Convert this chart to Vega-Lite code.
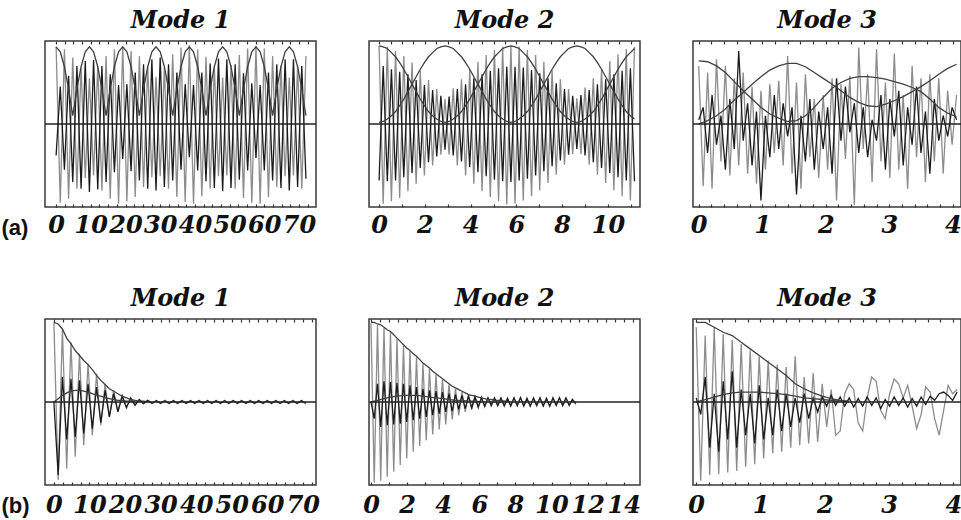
{
"$schema":"https://vega.github.io/schema/vega-lite/v6.json",
"autosize":{"type":"pad"},
"padding":{"left":0,"top":8,"right":0,"bottom":0},
"background":"white",
"datasets":{
"a1":[
{"x":0,"g":0.93,"d":-0.38,"e":0.93},{"x":1.2,"g":-0.95,"d":0.45,"e":0.87},{"x":2.4,"g":0.9,"d":-0.55,"e":0.69},{"x":3.6,"g":-0.9,"d":0.58,"e":0.42},
{"x":4.8,"g":0.8,"d":-0.7,"e":0.1},{"x":6,"g":-0.78,"d":0.7,"e":0.42},{"x":7.2,"g":0.68,"d":-0.78,"e":0.69},{"x":8.4,"g":-0.65,"d":0.76,"e":0.87},
{"x":9.6,"g":0.55,"d":-0.82,"e":0.93},{"x":10.8,"g":-0.62,"d":0.77,"e":0.87},{"x":12,"g":0.7,"d":-0.79,"e":0.69},{"x":13.2,"g":-0.8,"d":0.7,"e":0.42},
{"x":14.4,"g":0.82,"d":-0.7,"e":0.1},{"x":15.6,"g":-0.9,"d":0.6,"e":0.42},{"x":16.8,"g":0.9,"d":-0.58,"e":0.69},{"x":18,"g":-0.96,"d":0.47,"e":0.87},
{"x":19.2,"g":0.93,"d":-0.42,"e":0.93},{"x":20.4,"g":-0.93,"d":0.48,"e":0.87},{"x":21.6,"g":0.88,"d":-0.57,"e":0.69},{"x":22.8,"g":-0.88,"d":0.62,"e":0.42},
{"x":24,"g":0.82,"d":-0.68,"e":0.1},{"x":25.2,"g":-0.76,"d":0.72,"e":0.42},{"x":26.4,"g":0.7,"d":-0.78,"e":0.69},{"x":27.6,"g":-0.64,"d":0.78,"e":0.87},
{"x":28.8,"g":0.57,"d":-0.8,"e":0.93},{"x":30,"g":-0.63,"d":0.8,"e":0.87},{"x":31.2,"g":0.68,"d":-0.76,"e":0.69},{"x":32.4,"g":-0.78,"d":0.72,"e":0.42},
{"x":33.6,"g":0.84,"d":-0.68,"e":0.1},{"x":34.8,"g":-0.88,"d":0.62,"e":0.42},{"x":36,"g":0.92,"d":-0.55,"e":0.69},{"x":37.2,"g":-0.94,"d":0.48,"e":0.87},
{"x":38.4,"g":0.95,"d":-0.4,"e":0.93},{"x":39.6,"g":-0.96,"d":0.47,"e":0.87},{"x":40.8,"g":0.9,"d":-0.56,"e":0.69},{"x":42,"g":-0.87,"d":0.62,"e":0.42},
{"x":43.2,"g":0.81,"d":-0.69,"e":0.1},{"x":44.4,"g":-0.78,"d":0.73,"e":0.42},{"x":45.6,"g":0.69,"d":-0.77,"e":0.69},{"x":46.8,"g":-0.63,"d":0.79,"e":0.87},
{"x":48,"g":0.56,"d":-0.81,"e":0.93},{"x":49.2,"g":-0.62,"d":0.78,"e":0.87},{"x":50.4,"g":0.71,"d":-0.77,"e":0.69},{"x":51.6,"g":-0.78,"d":0.72,"e":0.42},
{"x":52.8,"g":0.83,"d":-0.67,"e":0.1},{"x":54,"g":-0.89,"d":0.61,"e":0.42},{"x":55.2,"g":0.91,"d":-0.56,"e":0.69},{"x":56.4,"g":-0.95,"d":0.49,"e":0.87},
{"x":57.6,"g":0.94,"d":-0.41,"e":0.93},{"x":58.8,"g":-0.96,"d":0.47,"e":0.87},{"x":60,"g":0.91,"d":-0.56,"e":0.69},{"x":61.2,"g":-0.88,"d":0.62,"e":0.42},
{"x":62.4,"g":0.82,"d":-0.68,"e":0.1},{"x":63.6,"g":-0.76,"d":0.72,"e":0.42},{"x":64.8,"g":0.7,"d":-0.77,"e":0.69},{"x":66,"g":-0.63,"d":0.78,"e":0.87},
{"x":67.2,"g":0.56,"d":-0.8,"e":0.93},{"x":68.4,"g":-0.62,"d":0.78,"e":0.87},{"x":69.6,"g":0.7,"d":-0.76,"e":0.69},{"x":70.8,"g":-0.78,"d":0.7,"e":0.42},
{"x":72,"g":0.82,"d":-0.66,"e":0.1}
],
"a2":[
{"x":0,"g":0.94,"d":-0.68,"e":0.94,"f":0.02},{"x":0.18,"g":-0.96,"d":0.7,"e":0.93,"f":0.03},{"x":0.36,"g":0.93,"d":-0.69,"e":0.91,"f":0.06},{"x":0.54,"g":-0.93,"d":0.66,"e":0.86,"f":0.1},
{"x":0.72,"g":0.88,"d":-0.68,"e":0.81,"f":0.15},{"x":0.9,"g":-0.89,"d":0.63,"e":0.74,"f":0.22},{"x":1.08,"g":0.82,"d":-0.64,"e":0.66,"f":0.3},{"x":1.26,"g":-0.81,"d":0.6,"e":0.57,"f":0.39},
{"x":1.44,"g":0.74,"d":-0.59,"e":0.48,"f":0.48},{"x":1.62,"g":-0.72,"d":0.53,"e":0.39,"f":0.57},{"x":1.8,"g":0.64,"d":-0.53,"e":0.3,"f":0.66},{"x":1.98,"g":-0.62,"d":0.47,"e":0.22,"f":0.74},
{"x":2.16,"g":0.53,"d":-0.46,"e":0.15,"f":0.81},{"x":2.34,"g":-0.5,"d":0.41,"e":0.1,"f":0.86},{"x":2.52,"g":0.42,"d":-0.39,"e":0.06,"f":0.91},{"x":2.7,"g":-0.37,"d":0.34,"e":0.03,"f":0.93},
{"x":2.88,"g":0.3,"d":-0.31,"e":0.02,"f":0.94},{"x":3.06,"g":-0.37,"d":0.33,"e":0.03,"f":0.93},{"x":3.24,"g":0.43,"d":-0.38,"e":0.06,"f":0.91},{"x":3.42,"g":-0.5,"d":0.42,"e":0.1,"f":0.86},
{"x":3.6,"g":0.54,"d":-0.45,"e":0.15,"f":0.81},{"x":3.78,"g":-0.62,"d":0.48,"e":0.22,"f":0.74},{"x":3.96,"g":0.65,"d":-0.52,"e":0.3,"f":0.66},{"x":4.14,"g":-0.72,"d":0.55,"e":0.39,"f":0.57},
{"x":4.32,"g":0.75,"d":-0.58,"e":0.48,"f":0.48},{"x":4.5,"g":-0.81,"d":0.6,"e":0.57,"f":0.39},{"x":4.68,"g":0.83,"d":-0.63,"e":0.66,"f":0.3},{"x":4.86,"g":-0.88,"d":0.64,"e":0.74,"f":0.22},
{"x":5.04,"g":0.89,"d":-0.67,"e":0.81,"f":0.15},{"x":5.22,"g":-0.93,"d":0.67,"e":0.86,"f":0.1},{"x":5.4,"g":0.93,"d":-0.69,"e":0.91,"f":0.06},{"x":5.58,"g":-0.97,"d":0.69,"e":0.93,"f":0.03},
{"x":5.76,"g":0.94,"d":-0.7,"e":0.94,"f":0.02},{"x":5.94,"g":-0.96,"d":0.69,"e":0.93,"f":0.03},{"x":6.12,"g":0.93,"d":-0.68,"e":0.91,"f":0.06},{"x":6.3,"g":-0.92,"d":0.68,"e":0.86,"f":0.1},
{"x":6.48,"g":0.89,"d":-0.66,"e":0.81,"f":0.15},{"x":6.66,"g":-0.87,"d":0.65,"e":0.74,"f":0.22},{"x":6.84,"g":0.83,"d":-0.62,"e":0.66,"f":0.3},{"x":7.02,"g":-0.8,"d":0.61,"e":0.57,"f":0.39},
{"x":7.2,"g":0.75,"d":-0.57,"e":0.48,"f":0.48},{"x":7.38,"g":-0.71,"d":0.55,"e":0.39,"f":0.57},{"x":7.56,"g":0.65,"d":-0.51,"e":0.3,"f":0.66},{"x":7.74,"g":-0.61,"d":0.49,"e":0.22,"f":0.74},
{"x":7.92,"g":0.54,"d":-0.44,"e":0.15,"f":0.81},{"x":8.1,"g":-0.49,"d":0.42,"e":0.1,"f":0.86},{"x":8.28,"g":0.42,"d":-0.37,"e":0.06,"f":0.91},{"x":8.46,"g":-0.36,"d":0.34,"e":0.03,"f":0.93},
{"x":8.64,"g":0.31,"d":-0.3,"e":0.02,"f":0.94},{"x":8.82,"g":-0.36,"d":0.35,"e":0.03,"f":0.93},{"x":9,"g":0.44,"d":-0.38,"e":0.06,"f":0.91},{"x":9.18,"g":-0.49,"d":0.41,"e":0.1,"f":0.86},
{"x":9.36,"g":0.55,"d":-0.46,"e":0.15,"f":0.81},{"x":9.54,"g":-0.61,"d":0.48,"e":0.22,"f":0.74},{"x":9.72,"g":0.66,"d":-0.53,"e":0.3,"f":0.66},{"x":9.9,"g":-0.71,"d":0.54,"e":0.39,"f":0.57},
{"x":10.08,"g":0.76,"d":-0.59,"e":0.48,"f":0.48},{"x":10.26,"g":-0.8,"d":0.6,"e":0.57,"f":0.39},{"x":10.44,"g":0.84,"d":-0.64,"e":0.66,"f":0.3},{"x":10.62,"g":-0.87,"d":0.64,"e":0.74,"f":0.22},
{"x":10.8,"g":0.9,"d":-0.68,"e":0.81,"f":0.15},{"x":10.98,"g":-0.92,"d":0.67,"e":0.86,"f":0.1},{"x":11.16,"g":0.93,"d":-0.69,"e":0.91,"f":0.06}
],
"a3":[
{"x":0,"g":0.7,"d":0.05,"e":0.76,"f":0},{"x":0.07,"g":-0.75,"d":0.2},{"x":0.14,"g":0.62,"d":-0.35,"e":0.75,"f":0.04},{"x":0.21,"g":-0.78,"d":0.35},
{"x":0.28,"g":0.78,"d":-0.25,"e":0.7,"f":0.1},{"x":0.35,"g":-0.45,"d":0.1},{"x":0.42,"g":0.7,"d":-0.55,"e":0.62,"f":0.18},{"x":0.49,"g":-0.62,"d":0.3},
{"x":0.56,"g":0.55,"d":-0.3,"e":0.51,"f":0.29},{"x":0.63,"g":-0.5,"d":0.88},{"x":0.7,"g":0.62,"d":-0.2,"e":0.4,"f":0.38},{"x":0.77,"g":-0.6,"d":0.25},
{"x":0.84,"g":0.45,"d":-0.5,"e":0.3,"f":0.48},{"x":0.91,"g":-0.72,"d":0.15},{"x":0.98,"g":0.4,"d":-0.92,"e":0.2,"f":0.57},{"x":1.05,"g":-0.55,"d":0.1},
{"x":1.12,"g":0.48,"d":-0.4,"e":0.12,"f":0.65},{"x":1.19,"g":-0.35,"d":0.35},{"x":1.26,"g":0.52,"d":-0.3,"e":0.07,"f":0.7},{"x":1.33,"g":-0.5,"d":0.25},
{"x":1.4,"g":0.82,"d":-0.15,"e":0.03,"f":0.73},{"x":1.47,"g":-0.6,"d":0.2},{"x":1.54,"g":0.5,"d":-0.85,"e":0.04,"f":0.73},{"x":1.61,"g":-0.78,"d":0.1},
{"x":1.68,"g":0.6,"d":-0.45,"e":0.1,"f":0.69},{"x":1.75,"g":-0.4,"d":0.3},{"x":1.82,"g":0.3,"d":-0.55,"e":0.2,"f":0.62},{"x":1.89,"g":-0.65,"d":0.15},
{"x":1.96,"g":0.35,"d":-0.3,"e":0.32,"f":0.55},{"x":2.03,"g":-0.55,"d":0.2},{"x":2.1,"g":0.55,"d":-0.6,"e":0.43,"f":0.48},{"x":2.17,"g":-0.92,"d":0.55},
{"x":2.24,"g":0.48,"d":-0.2,"e":0.5,"f":0.4},{"x":2.31,"g":-0.42,"d":0.45},{"x":2.38,"g":0.58,"d":-0.1,"e":0.55,"f":0.32},{"x":2.45,"g":-0.98,"d":0.25},
{"x":2.52,"g":0.92,"d":-0.35,"e":0.57,"f":0.26},{"x":2.59,"g":-0.3,"d":0.2},{"x":2.66,"g":0.6,"d":-0.4,"e":0.57,"f":0.22},{"x":2.73,"g":-0.7,"d":0.05},
{"x":2.8,"g":0.9,"d":-0.2,"e":0.56,"f":0.21},{"x":2.87,"g":-0.45,"d":0.35},{"x":2.94,"g":0.5,"d":-0.55,"e":0.54,"f":0.24},{"x":3.01,"g":-0.65,"d":0.3},
{"x":3.08,"g":0.85,"d":-0.15,"e":0.51,"f":0.28},{"x":3.15,"g":-0.55,"d":0.4},{"x":3.22,"g":0.35,"d":-0.5,"e":0.48,"f":0.33},{"x":3.29,"g":-0.78,"d":0.2},
{"x":3.36,"g":0.7,"d":-0.25,"e":0.44,"f":0.39},{"x":3.43,"g":-0.4,"d":0.45},{"x":3.5,"g":0.55,"d":-0.35,"e":0.39,"f":0.45},{"x":3.57,"g":-0.7,"d":0.15},
{"x":3.64,"g":0.6,"d":-0.6,"e":0.3,"f":0.52},{"x":3.71,"g":-0.45,"d":0.3},{"x":3.78,"g":0.55,"d":-0.2,"e":0.2,"f":0.6},{"x":3.85,"g":-0.6,"d":0.1},
{"x":3.92,"g":0.4,"d":-0.15,"e":0.13,"f":0.67},{"x":3.99,"g":-0.25,"d":0.2},{"x":4.06,"g":0.35,"d":0.05,"e":0.09,"f":0.72}
],
"b1":[
{"x":0,"g":0.96,"d":0,"e":0.96,"f":0},{"x":1.2,"g":-0.94,"d":-0.88,"e":0.94,"f":0.04},{"x":2.4,"g":0.88,"d":0.3,"e":0.88,"f":0.08},{"x":3.6,"g":-0.8,"d":-0.45,"e":0.77,"f":0.11},
{"x":4.8,"g":0.72,"d":0.28,"e":0.7,"f":0.13},{"x":6,"g":-0.66,"d":-0.42,"e":0.62,"f":0.14},{"x":7.2,"g":0.58,"d":0.26,"e":0.56,"f":0.14},{"x":8.4,"g":-0.52,"d":-0.38,"e":0.5,"f":0.13},
{"x":9.6,"g":0.46,"d":0.22,"e":0.45,"f":0.12},{"x":10.8,"g":-0.4,"d":-0.32,"e":0.39,"f":0.1},{"x":12,"g":0.34,"d":0.18,"e":0.32,"f":0.08},{"x":13.2,"g":-0.28,"d":-0.25,"e":0.26,"f":0.07},
{"x":14.4,"g":0.22,"d":0.14,"e":0.21,"f":0.05},{"x":15.6,"g":-0.18,"d":-0.18,"e":0.16,"f":0.04},{"x":16.8,"g":0.14,"d":0.1,"e":0.13,"f":0.03},{"x":18,"g":-0.11,"d":-0.12,"e":0.1,"f":0.02},
{"x":19.2,"g":0.08,"d":0.07,"e":0.07,"f":0.02},{"x":20.4,"g":-0.06,"d":-0.07,"e":0.05,"f":0.01},{"x":21.6,"g":0.04,"d":0.05,"e":0.03,"f":0.01},{"x":22.8,"g":-0.03,"d":-0.04,"e":0.02,"f":0},
{"x":24,"g":0.025,"d":0.03,"e":0.01},{"x":25.2,"g":-0.02,"d":-0.02,"e":0.01},{"x":26.4,"g":0.02,"d":0.02,"e":0},{"x":27.6,"g":-0.02,"d":-0.015},
{"x":28.8,"g":0.02,"d":0.015},{"x":30,"g":-0.02,"d":-0.015},{"x":31.2,"g":0.02,"d":0.015},{"x":32.4,"g":-0.02,"d":-0.015},
{"x":33.6,"g":0.02,"d":0.015},{"x":34.8,"g":-0.02,"d":-0.015},{"x":36,"g":0.02,"d":0.015},{"x":37.2,"g":-0.02,"d":-0.015},
{"x":38.4,"g":0.02,"d":0.015},{"x":39.6,"g":-0.02,"d":-0.015},{"x":40.8,"g":0.02,"d":0.015},{"x":42,"g":-0.02,"d":-0.015},
{"x":43.2,"g":0.02,"d":0.015},{"x":44.4,"g":-0.02,"d":-0.015},{"x":45.6,"g":0.02,"d":0.015},{"x":46.8,"g":-0.02,"d":-0.015},
{"x":48,"g":0.02,"d":0.015},{"x":49.2,"g":-0.02,"d":-0.015},{"x":50.4,"g":0.02,"d":0.015},{"x":51.6,"g":-0.02,"d":-0.015},
{"x":52.8,"g":0.02,"d":0.015},{"x":54,"g":-0.02,"d":-0.015},{"x":55.2,"g":0.02,"d":0.015},{"x":56.4,"g":-0.02,"d":-0.015},
{"x":57.6,"g":0.02,"d":0.015},{"x":58.8,"g":-0.02,"d":-0.015},{"x":60,"g":0.02,"d":0.015},{"x":61.2,"g":-0.02,"d":-0.015},
{"x":62.4,"g":0.02,"d":0.015},{"x":63.6,"g":-0.02,"d":-0.015},{"x":64.8,"g":0.02,"d":0.015},{"x":66,"g":-0.02,"d":-0.015},
{"x":67.2,"g":0.02,"d":0.015},{"x":68.4,"g":-0.02,"d":-0.015},{"x":69.6,"g":0.02,"d":0.015},{"x":70.8,"g":-0.02,"d":-0.015}
],
"b2":[
{"x":0,"g":0.95,"d":0,"e":0.96,"f":0},{"x":0.18,"g":-0.97,"d":-0.2,"e":0.96},{"x":0.36,"g":0.93,"d":0.22,"e":0.94,"f":0.02},{"x":0.54,"g":-0.95,"d":-0.3,"e":0.93},
{"x":0.72,"g":0.89,"d":0.25,"e":0.9,"f":0.04},{"x":0.9,"g":-0.9,"d":-0.28,"e":0.87},{"x":1.08,"g":0.84,"d":0.24,"e":0.85,"f":0.06},{"x":1.26,"g":-0.84,"d":-0.27,"e":0.81},
{"x":1.44,"g":0.76,"d":0.23,"e":0.77,"f":0.07},{"x":1.62,"g":-0.76,"d":-0.26,"e":0.73},{"x":1.8,"g":0.68,"d":0.22,"e":0.69,"f":0.08},{"x":1.98,"g":-0.68,"d":-0.24,"e":0.65},
{"x":2.16,"g":0.61,"d":0.2,"e":0.62,"f":0.08},{"x":2.34,"g":-0.6,"d":-0.22,"e":0.58},{"x":2.52,"g":0.54,"d":0.18,"e":0.55,"f":0.08},{"x":2.7,"g":-0.53,"d":-0.2,"e":0.51},
{"x":2.88,"g":0.46,"d":0.16,"e":0.47,"f":0.07},{"x":3.06,"g":-0.46,"d":-0.18,"e":0.44},{"x":3.24,"g":0.4,"d":0.14,"e":0.41,"f":0.06},{"x":3.42,"g":-0.39,"d":-0.16,"e":0.37},
{"x":3.6,"g":0.33,"d":0.13,"e":0.34,"f":0.05},{"x":3.78,"g":-0.33,"d":-0.14,"e":0.31},{"x":3.96,"g":0.27,"d":0.12,"e":0.28,"f":0.04},{"x":4.14,"g":-0.27,"d":-0.12,"e":0.25},
{"x":4.32,"g":0.21,"d":0.1,"e":0.22,"f":0.03},{"x":4.5,"g":-0.21,"d":-0.11,"e":0.19},{"x":4.68,"g":0.16,"d":0.09,"e":0.17,"f":0.02},{"x":4.86,"g":-0.16,"d":-0.09,"e":0.15},
{"x":5.04,"g":0.12,"d":0.08,"e":0.13,"f":0.02},{"x":5.22,"g":-0.12,"d":-0.08,"e":0.11},{"x":5.4,"g":0.09,"d":0.07,"e":0.09,"f":0.01},{"x":5.58,"g":-0.09,"d":-0.07,"e":0.08},
{"x":5.76,"g":0.07,"d":0.06,"e":0.07,"f":0.01},{"x":5.94,"g":-0.07,"d":-0.06,"e":0.06},{"x":6.12,"g":0.06,"d":0.05,"e":0.05,"f":0},{"x":6.3,"g":-0.06,"d":-0.05,"e":0.04},
{"x":6.48,"g":0.05,"d":0.05,"e":0.03},{"x":6.66,"g":-0.05,"d":-0.04,"e":0.03},{"x":6.84,"g":0.04,"d":0.05,"e":0.02},{"x":7.02,"g":-0.05,"d":-0.04,"e":0.02},
{"x":7.2,"g":0.04,"d":0.05,"e":0.02},{"x":7.38,"g":-0.04,"d":-0.05,"e":0.01},{"x":7.56,"g":0.05,"d":0.04,"e":0.01},{"x":7.74,"g":-0.04,"d":-0.05},
{"x":7.92,"g":0.05,"d":0.05},{"x":8.1,"g":-0.05,"d":-0.04},{"x":8.28,"g":0.06,"d":0.05},{"x":8.46,"g":-0.04,"d":-0.05},
{"x":8.64,"g":0.05,"d":0.04},{"x":8.82,"g":-0.05,"d":-0.05},{"x":9,"g":0.04,"d":0.05},{"x":9.18,"g":-0.05,"d":-0.04},
{"x":9.36,"g":0.05,"d":0.05},{"x":9.54,"g":-0.04,"d":-0.05},{"x":9.72,"g":0.05,"d":0.04},{"x":9.9,"g":-0.05,"d":-0.05},
{"x":10.08,"g":0.05,"d":0.05},{"x":10.26,"g":-0.04,"d":-0.04},{"x":10.44,"g":0.05,"d":0.05},{"x":10.62,"g":-0.05,"d":-0.04},
{"x":10.8,"g":0.04,"d":0.05},{"x":10.98,"g":-0.04,"d":-0.04},{"x":11.16,"g":0.03,"d":0.03},{"x":11.34,"g":-0.03,"d":-0.02}
],
"b3":[
{"x":0,"g":0.9,"d":0.05,"e":0.96,"f":0},{"x":0.07,"g":-0.95,"d":-0.15},{"x":0.14,"g":0.8,"d":0.3,"e":0.96,"f":0.03},{"x":0.21,"g":-0.88,"d":-0.55},
{"x":0.28,"g":0.9,"d":0.1,"e":0.9,"f":0.06},{"x":0.35,"g":-0.87,"d":-0.6},{"x":0.42,"g":0.82,"d":0.25,"e":0.84,"f":0.09},{"x":0.49,"g":-0.85,"d":-0.45},
{"x":0.56,"g":0.75,"d":0.37,"e":0.8,"f":0.11},{"x":0.63,"g":-0.83,"d":-0.55},{"x":0.7,"g":0.7,"d":0.15,"e":0.72,"f":0.12},{"x":0.77,"g":-0.78,"d":-0.4},
{"x":0.84,"g":0.62,"d":0.1,"e":0.64,"f":0.12},{"x":0.91,"g":-0.75,"d":-0.5},{"x":0.98,"g":0.55,"d":0.2,"e":0.56,"f":0.12},{"x":1.05,"g":-0.68,"d":-0.45},
{"x":1.12,"g":0.5,"d":0.05,"e":0.48,"f":0.11},{"x":1.19,"g":-0.62,"d":-0.4},{"x":1.26,"g":0.45,"d":0.15,"e":0.4,"f":0.1},{"x":1.33,"g":-0.6,"d":-0.35},
{"x":1.4,"g":0.42,"d":0.1,"e":0.32,"f":0.09},{"x":1.47,"g":-0.55,"d":-0.3},{"x":1.54,"g":0.55,"d":0.05,"e":0.22,"f":0.07},{"x":1.61,"g":-0.52,"d":-0.25},
{"x":1.68,"g":0.3,"d":0.1,"e":0.16,"f":0.05},{"x":1.75,"g":-0.5,"d":-0.2},{"x":1.82,"g":0.35,"d":0.05,"e":0.11,"f":0.04},{"x":1.89,"g":-0.48,"d":-0.12},
{"x":1.96,"g":0.22,"d":0.06,"e":0.07,"f":0.03},{"x":2.03,"g":-0.3,"d":-0.05},{"x":2.1,"g":0.15,"d":0.08,"e":0.04,"f":0.02},{"x":2.17,"g":-0.4,"d":-0.04},
{"x":2.24,"g":-0.35,"d":0.06,"e":0.02,"f":0.01},{"x":2.31,"g":0.1,"d":-0.05},{"x":2.38,"g":0.22,"d":0.05,"e":0.01,"f":0},{"x":2.45,"g":0.15,"d":-0.06},
{"x":2.52,"g":-0.25,"d":0.04},{"x":2.59,"g":-0.35,"d":-0.05},{"x":2.66,"g":0.05,"d":0.06},{"x":2.73,"g":0.3,"d":-0.04},
{"x":2.8,"g":0.25,"d":0.05},{"x":2.87,"g":-0.1,"d":-0.08},{"x":2.94,"g":-0.2,"d":0.03},{"x":3.01,"g":0.1,"d":-0.05},
{"x":3.08,"g":0.28,"d":0.06},{"x":3.15,"g":0.22,"d":-0.04},{"x":3.22,"g":0.05,"d":0.05},{"x":3.29,"g":0.2,"d":-0.06},
{"x":3.36,"g":-0.05,"d":0.04},{"x":3.43,"g":-0.32,"d":-0.05},{"x":3.5,"g":-0.15,"d":0.06},{"x":3.57,"g":0.18,"d":-0.03},
{"x":3.64,"g":0.12,"d":0.07},{"x":3.71,"g":-0.2,"d":0.02},{"x":3.78,"g":-0.4,"d":0.1},{"x":3.85,"g":-0.1,"d":0.12},
{"x":3.92,"g":0.2,"d":0.08},{"x":3.99,"g":0.1,"d":0.02},{"x":4.06,"g":0.15,"d":0.12}
]
},
"vconcat":[
{"hconcat":[
{"width":271,"height":166,"title":"Mode 1","resolve":{"axis":{"x":"independent"}},"layer":[
{"data":{"name":"a1"},"transform":[{"fold":["g","d","e","f"],"as":["s","v"]},{"filter":"isValid(datum.v)"}],"mark":{"type":"line","strokeWidth":1.3},
"encoding":{"x":{"field":"x","type":"quantitative","scale":{"domain":[-3.2,74.9],"nice":false,"zero":false},"axis":{"values":[0,2.5,5,7.5,10,12.5,15,17.5,20,22.5,25,27.5,30,32.5,35,37.5,40,42.5,45,47.5,50,52.5,55,57.5,60,62.5,65,67.5,70,72.5],"format":"d","labelExpr":"abs(datum.value/10 - round(datum.value/10)) < 0.001 ? datum.label : ''","title":null,"labelPadding":9}},
"y":{"field":"v","type":"quantitative","scale":{"domain":[-1,1],"nice":false},"axis":{"title":"(a)","titleAngle":0,"titleAlign":"left","titleBaseline":"middle","titleX":-44,"titleY":186,"titleFont":"Liberation Sans","titleFontWeight":"bold","titleFontSize":22,"titleColor":"#111","labels":false,"ticks":false,"domain":false,"grid":false}},
"color":{"field":"s","type":"nominal","scale":{"domain":["g","d","e","f"],"range":["#8c8c8c","#1c1c1c","#404040","#404040"]},"legend":null}}},
{"data":{"values":[{"z":0}]},"mark":{"type":"rule","color":"#222","strokeWidth":1.5},"encoding":{"y":{"field":"z","type":"quantitative","axis":{"title":"(a)","titleAngle":0,"titleAlign":"left","titleBaseline":"middle","titleX":-44,"titleY":186,"titleFont":"Liberation Sans","titleFontWeight":"bold","titleFontSize":22,"titleColor":"#111","labels":false,"ticks":false,"domain":false,"grid":false}}}},
{"data":{"name":"a1"},"mark":{"type":"point","opacity":0},"encoding":{"x":{"field":"x","type":"quantitative","scale":{"domain":[-3.2,74.9],"nice":false,"zero":false},"axis":{"orient":"top","values":[0,2.5,5,7.5,10,12.5,15,17.5,20,22.5,25,27.5,30,32.5,35,37.5,40,42.5,45,47.5,50,52.5,55,57.5,60,62.5,65,67.5,70,72.5],"labels":false,"title":null}}}}
]},
{"width":271,"height":166,"title":"Mode 2","resolve":{"axis":{"x":"independent"}},"layer":[
{"data":{"name":"a2"},"transform":[{"fold":["g","d","e","f"],"as":["s","v"]},{"filter":"isValid(datum.v)"}],"mark":{"type":"line","strokeWidth":1.3},
"encoding":{"x":{"field":"x","type":"quantitative","scale":{"domain":[-0.44,11.4],"nice":false,"zero":false},"axis":{"values":[0,0.5,1,1.5,2,2.5,3,3.5,4,4.5,5,5.5,6,6.5,7,7.5,8,8.5,9,9.5,10,10.5,11],"format":"d","labelExpr":"abs(datum.value/2 - round(datum.value/2)) < 0.001 ? datum.label : ''","title":null,"labelPadding":9}},
"y":{"field":"v","type":"quantitative","scale":{"domain":[-1,1],"nice":false},"axis":null},
"color":{"field":"s","type":"nominal","scale":{"domain":["g","d","e","f"],"range":["#8c8c8c","#1c1c1c","#404040","#404040"]},"legend":null}}},
{"data":{"values":[{"z":0}]},"mark":{"type":"rule","color":"#222","strokeWidth":1.5},"encoding":{"y":{"field":"z","type":"quantitative","axis":null}}},
{"data":{"name":"a2"},"mark":{"type":"point","opacity":0},"encoding":{"x":{"field":"x","type":"quantitative","scale":{"domain":[-0.44,11.4],"nice":false,"zero":false},"axis":{"orient":"top","values":[0,0.5,1,1.5,2,2.5,3,3.5,4,4.5,5,5.5,6,6.5,7,7.5,8,8.5,9,9.5,10,10.5,11],"labels":false,"title":null}}}}
]},
{"width":268,"height":166,"title":"Mode 3","resolve":{"axis":{"x":"independent"}},"layer":[
{"data":{"name":"a3"},"transform":[{"fold":["g","d","e","f"],"as":["s","v"]},{"filter":"isValid(datum.v)"}],"mark":{"type":"line","strokeWidth":1.3},
"encoding":{"x":{"field":"x","type":"quantitative","scale":{"domain":[-0.09,4.13],"nice":false,"zero":false},"axis":{"values":[0,0.2,0.4,0.6,0.8,1,1.2,1.4,1.6,1.8,2,2.2,2.4,2.6,2.8,3,3.2,3.4,3.6,3.8,4],"labelExpr":"abs(datum.value - round(datum.value)) < 0.001 ? format(datum.value, 'd') : ''","title":null,"labelPadding":9}},
"y":{"field":"v","type":"quantitative","scale":{"domain":[-1,1],"nice":false},"axis":null},
"color":{"field":"s","type":"nominal","scale":{"domain":["g","d","e","f"],"range":["#8c8c8c","#1c1c1c","#404040","#404040"]},"legend":null}}},
{"data":{"values":[{"z":0}]},"mark":{"type":"rule","color":"#222","strokeWidth":1.5},"encoding":{"y":{"field":"z","type":"quantitative","axis":null}}},
{"data":{"name":"a3"},"mark":{"type":"point","opacity":0},"encoding":{"x":{"field":"x","type":"quantitative","scale":{"domain":[-0.09,4.13],"nice":false,"zero":false},"axis":{"orient":"top","values":[0,0.2,0.4,0.6,0.8,1,1.2,1.4,1.6,1.8,2,2.2,2.4,2.6,2.8,3,3.2,3.4,3.6,3.8,4],"labels":false,"title":null}}}}
]}
],"spacing":53,"bounds":"flush"},
{"hconcat":[
{"width":271,"height":166,"title":"Mode 1","resolve":{"axis":{"x":"independent"}},"layer":[
{"data":{"name":"b1"},"transform":[{"fold":["g","d","e","f"],"as":["s","v"]},{"filter":"isValid(datum.v)"}],"mark":{"type":"line","strokeWidth":1.3},
"encoding":{"x":{"field":"x","type":"quantitative","scale":{"domain":[-2.5,73.7],"nice":false,"zero":false},"axis":{"values":[0,2.5,5,7.5,10,12.5,15,17.5,20,22.5,25,27.5,30,32.5,35,37.5,40,42.5,45,47.5,50,52.5,55,57.5,60,62.5,65,67.5,70,72.5],"format":"d","labelExpr":"abs(datum.value/10 - round(datum.value/10)) < 0.001 ? datum.label : ''","title":null,"labelPadding":11}},
"y":{"field":"v","type":"quantitative","scale":{"domain":[-1,1],"nice":false},"axis":{"title":"(b)","titleAngle":0,"titleAlign":"left","titleBaseline":"middle","titleX":-44,"titleY":186,"titleFont":"Liberation Sans","titleFontWeight":"bold","titleFontSize":22,"titleColor":"#111","labels":false,"ticks":false,"domain":false,"grid":false}},
"color":{"field":"s","type":"nominal","scale":{"domain":["g","d","e","f"],"range":["#8c8c8c","#1c1c1c","#404040","#404040"]},"legend":null}}},
{"data":{"values":[{"z":0}]},"mark":{"type":"rule","color":"#222","strokeWidth":1.5},"encoding":{"y":{"field":"z","type":"quantitative","axis":{"title":"(b)","titleAngle":0,"titleAlign":"left","titleBaseline":"middle","titleX":-44,"titleY":186,"titleFont":"Liberation Sans","titleFontWeight":"bold","titleFontSize":22,"titleColor":"#111","labels":false,"ticks":false,"domain":false,"grid":false}}}},
{"data":{"name":"b1"},"mark":{"type":"point","opacity":0},"encoding":{"x":{"field":"x","type":"quantitative","scale":{"domain":[-2.5,73.7],"nice":false,"zero":false},"axis":{"orient":"top","values":[0,2.5,5,7.5,10,12.5,15,17.5,20,22.5,25,27.5,30,32.5,35,37.5,40,42.5,45,47.5,50,52.5,55,57.5,60,62.5,65,67.5,70,72.5],"labels":false,"title":null}}}}
]},
{"width":271,"height":166,"title":"Mode 2","resolve":{"axis":{"x":"independent"}},"layer":[
{"data":{"name":"b2"},"transform":[{"fold":["g","d","e","f"],"as":["s","v"]},{"filter":"isValid(datum.v)"}],"mark":{"type":"line","strokeWidth":1.3},
"encoding":{"x":{"field":"x","type":"quantitative","scale":{"domain":[-0.11,14.9],"nice":false,"zero":false},"axis":{"values":[0,0.5,1,1.5,2,2.5,3,3.5,4,4.5,5,5.5,6,6.5,7,7.5,8,8.5,9,9.5,10,10.5,11,11.5,12,12.5,13,13.5,14,14.5],"format":"d","labelExpr":"abs(datum.value/2 - round(datum.value/2)) < 0.001 ? datum.label : ''","title":null,"labelPadding":11}},
"y":{"field":"v","type":"quantitative","scale":{"domain":[-1,1],"nice":false},"axis":null},
"color":{"field":"s","type":"nominal","scale":{"domain":["g","d","e","f"],"range":["#8c8c8c","#1c1c1c","#404040","#404040"]},"legend":null}}},
{"data":{"values":[{"z":0}]},"mark":{"type":"rule","color":"#222","strokeWidth":1.5},"encoding":{"y":{"field":"z","type":"quantitative","axis":null}}},
{"data":{"name":"b2"},"mark":{"type":"point","opacity":0},"encoding":{"x":{"field":"x","type":"quantitative","scale":{"domain":[-0.11,14.9],"nice":false,"zero":false},"axis":{"orient":"top","values":[0,0.5,1,1.5,2,2.5,3,3.5,4,4.5,5,5.5,6,6.5,7,7.5,8,8.5,9,9.5,10,10.5,11,11.5,12,12.5,13,13.5,14,14.5],"labels":false,"title":null}}}}
]},
{"width":268,"height":166,"title":"Mode 3","resolve":{"axis":{"x":"independent"}},"layer":[
{"data":{"name":"b3"},"transform":[{"fold":["g","d","e","f"],"as":["s","v"]},{"filter":"isValid(datum.v)"}],"mark":{"type":"line","strokeWidth":1.3},
"encoding":{"x":{"field":"x","type":"quantitative","scale":{"domain":[-0.05,4.12],"nice":false,"zero":false},"axis":{"values":[0,0.2,0.4,0.6,0.8,1,1.2,1.4,1.6,1.8,2,2.2,2.4,2.6,2.8,3,3.2,3.4,3.6,3.8,4],"labelExpr":"abs(datum.value - round(datum.value)) < 0.001 ? format(datum.value, 'd') : ''","title":null,"labelPadding":11}},
"y":{"field":"v","type":"quantitative","scale":{"domain":[-1,1],"nice":false},"axis":null},
"color":{"field":"s","type":"nominal","scale":{"domain":["g","d","e","f"],"range":["#8c8c8c","#1c1c1c","#404040","#404040"]},"legend":null}}},
{"data":{"values":[{"z":0}]},"mark":{"type":"rule","color":"#222","strokeWidth":1.5},"encoding":{"y":{"field":"z","type":"quantitative","axis":null}}},
{"data":{"name":"b3"},"mark":{"type":"point","opacity":0},"encoding":{"x":{"field":"x","type":"quantitative","scale":{"domain":[-0.05,4.12],"nice":false,"zero":false},"axis":{"orient":"top","values":[0,0.2,0.4,0.6,0.8,1,1.2,1.4,1.6,1.8,2,2.2,2.4,2.6,2.8,3,3.2,3.4,3.6,3.8,4],"labels":false,"title":null}}}}
]}
],"spacing":53,"bounds":"flush"}
],
"spacing":278,
"bounds":"flush",
"config":{
"view":{"stroke":"#3a3a3a","strokeWidth":1.5},
"title":{"font":"DejaVu Serif","fontStyle":"italic","fontWeight":"bold","fontSize":24,"color":"#111","offset":7,"frame":"group","anchor":"middle","baseline":"alphabetic"},
"axisX":{"labelFont":"DejaVu Serif","labelFontStyle":"italic","labelFontWeight":"bold","labelFontSize":24,"labelColor":"#111","ticks":true,"tickSize":-3,"tickColor":"#333","tickWidth":1.2,"domain":false,"grid":false,"labelOverlap":false,"labelBound":false,"labelFlush":false}
}
}
